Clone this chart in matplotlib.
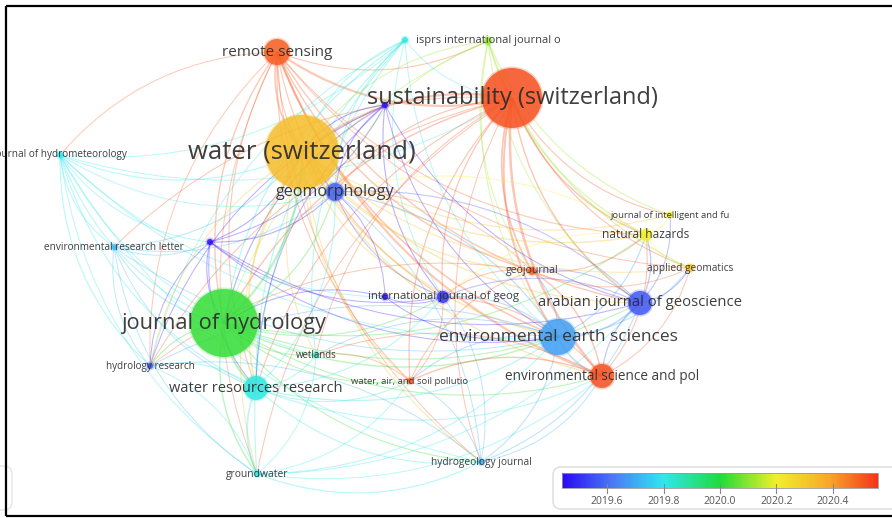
import numpy as np
import matplotlib
matplotlib.use("Agg")
import matplotlib.pyplot as plt
from matplotlib.colors import LinearSegmentedColormap, Normalize
from matplotlib.patches import Circle, FancyBboxPatch, PathPatch
from matplotlib.path import Path

# journals of the overlay map (position in the map, circle radius, avg. pub. year)
keys = ["sust", "water", "jhyd", "ees", "ajg", "esp", "wrr", "rs", "geo", "nh",
        "ijg", "jif", "ag", "gj", "wet", "hr", "gw", "hgj", "was", "erl",
        "jhm", "isprs", "n22", "n23", "n24", "n25"]
names = ["sustainability (switzerland)", "water (switzerland)", "journal of hydrology",
         "environmental earth sciences", "arabian journal of geoscience",
         "environmental science and pol", "water resources research", "remote sensing",
         "geomorphology", "natural hazards", "international journal of geog",
         "journal of intelligent and fu", "applied geomatics", "geojournal", "wetlands",
         "hydrology research", "groundwater", "hydrogeology journal",
         "water, air, and soil pollutio", "environmental research letter",
         "journal of hydrometeorology", "isprs international journal o", "", "", "", ""]
node_x = [512, 302, 224, 558, 640, 602, 256, 277, 335, 646,
          443, 670, 690, 532, 316, 150, 257, 481, 410, 114,
          60, 488, 405, 385, 210, 385]
node_y = [98, 152, 323, 337, 303, 376, 388, 52, 192, 235,
          297, 215, 268, 271, 355, 366, 474, 462, 381, 247,
          155, 41, 40, 105, 242, 297]
node_r = [30, 37, 34, 18, 12, 12, 12, 13, 9, 6,
          6, 3, 4, 4, 3, 3, 3, 3, 3, 3,
          3, 4, 3, 3, 3, 3]
node_year = [2020.52, 2020.33, 2020.02, 2019.68, 2019.56, 2020.52, 2019.82, 2020.5, 2019.58, 2020.2,
             2019.5, 2020.22, 2020.3, 2020.5, 2019.86, 2019.55, 2019.8, 2019.7, 2020.5, 2019.72,
             2019.8, 2020.12, 2019.82, 2019.44, 2019.44, 2019.44]
label_pt = [17, 18.5, 15.7, 12.5, 10.7, 9.8, 10.5, 11, 11.6, 8.6,
            8.2, 6.8, 7.3, 7.6, 6.9, 7.1, 7.4, 7.3, 6.8, 7.2,
            7.2, 8, 6, 6, 6, 6]

# co-citation links (source, target, strength)
links = [
    ("rs", "sust", 3), ("rs", "water", 2), ("rs", "esp", 3), ("rs", "ees", 2), ("rs", "gj", 1.5),
    ("rs", "jhyd", 1.5), ("rs", "wrr", 1), ("rs", "ajg", 1.5), ("rs", "nh", 1), ("rs", "ijg", 1),
    ("rs", "was", 1), ("rs", "geo", 1), ("rs", "hr", 0.8), ("rs", "jhm", 0.8), ("rs", "isprs", 1),
    ("rs", "ag", 0.8), ("rs", "hgj", 0.8), ("rs", "gw", 0.8),
    ("sust", "water", 3), ("sust", "esp", 3.5), ("sust", "ees", 2.5), ("sust", "gj", 2), ("sust", "nh", 1.5),
    ("sust", "ajg", 1.5), ("sust", "jhyd", 1.5), ("sust", "wrr", 1), ("sust", "ijg", 1.2), ("sust", "ag", 1),
    ("sust", "was", 1.2), ("sust", "hgj", 0.8), ("sust", "gw", 0.8), ("sust", "erl", 0.8), ("sust", "jif", 1),
    ("sust", "geo", 1), ("sust", "hr", 0.8), ("sust", "wet", 0.8),
    ("isprs", "nh", 1.5), ("isprs", "ag", 1.5), ("isprs", "jif", 1.2), ("isprs", "ees", 1), ("isprs", "water", 1.2),
    ("isprs", "ajg", 1), ("isprs", "gj", 1), ("isprs", "geo", 0.8), ("isprs", "jhyd", 0.8),
    ("n22", "jhyd", 1.2), ("n22", "wrr", 1.2), ("n22", "geo", 1), ("n22", "water", 1), ("n22", "wet", 1),
    ("n22", "gw", 1), ("n22", "ijg", 0.8), ("n22", "hr", 0.8), ("n22", "sust", 0.8), ("n22", "ees", 0.8),
    ("n23", "geo", 1), ("n23", "jhyd", 1), ("n23", "wrr", 0.8), ("n23", "ees", 0.8), ("n23", "ijg", 1),
    ("n23", "hr", 0.8), ("n23", "ajg", 0.8), ("n23", "water", 1),
    ("jhm", "water", 1), ("jhm", "jhyd", 1), ("jhm", "wrr", 1), ("jhm", "erl", 1), ("jhm", "hr", 1),
    ("jhm", "geo", 0.8), ("jhm", "n24", 0.8), ("jhm", "gw", 0.8), ("jhm", "ijg", 0.8), ("jhm", "sust", 0.8),
    ("jhm", "ees", 0.8), ("jhm", "hgj", 0.8), ("jhm", "n22", 0.8), ("jhm", "wet", 0.8),
    ("erl", "jhyd", 1), ("erl", "water", 1), ("erl", "wrr", 0.8), ("erl", "n24", 0.8), ("erl", "hr", 0.8),
    ("erl", "ees", 0.8), ("erl", "geo", 0.8), ("erl", "gw", 0.8),
    ("n24", "jhyd", 1), ("n24", "water", 1), ("n24", "geo", 1), ("n24", "hr", 0.8), ("n24", "ees", 0.8),
    ("n24", "ijg", 0.8), ("n24", "wrr", 0.8), ("n24", "n23", 0.8), ("n24", "ajg", 0.8),
    ("jhyd", "water", 3), ("jhyd", "wrr", 3), ("jhyd", "gw", 1.5), ("jhyd", "wet", 1.2), ("jhyd", "hr", 1.2),
    ("jhyd", "hgj", 1), ("jhyd", "geo", 1.2), ("jhyd", "ees", 1.5), ("jhyd", "was", 1), ("jhyd", "ijg", 1),
    ("jhyd", "ajg", 1), ("jhyd", "esp", 1), ("jhyd", "nh", 1),
    ("water", "ees", 2), ("water", "ajg", 1.5), ("water", "nh", 1.5), ("water", "esp", 1.5), ("water", "gj", 1.2),
    ("water", "wrr", 2), ("water", "hgj", 1), ("water", "gw", 1), ("water", "geo", 1.5), ("water", "ijg", 1.2),
    ("water", "was", 1.2), ("water", "ag", 1), ("water", "jif", 1), ("water", "wet", 1), ("water", "hr", 1),
    ("wrr", "gw", 2), ("wrr", "hr", 1.2), ("wrr", "wet", 1), ("wrr", "hgj", 1), ("wrr", "ees", 1.2),
    ("wrr", "was", 1), ("wrr", "esp", 1), ("wrr", "geo", 1), ("wrr", "ijg", 1),
    ("gw", "hgj", 1.2), ("gw", "ees", 1), ("gw", "esp", 0.8), ("gw", "wet", 0.8), ("gw", "was", 0.8),
    ("gw", "hr", 0.8), ("gw", "ajg", 0.8),
    ("hgj", "ees", 1), ("hgj", "ajg", 1), ("hgj", "esp", 0.8), ("hgj", "was", 0.8), ("hgj", "ijg", 0.8),
    ("hgj", "geo", 0.8), ("hgj", "hr", 0.8),
    ("ees", "ajg", 2), ("ees", "esp", 2), ("ees", "gj", 1.2), ("ees", "nh", 1.2), ("ees", "ijg", 1.2),
    ("ees", "was", 1), ("ees", "ag", 1), ("ees", "geo", 1.2), ("ees", "hr", 0.8), ("ees", "wet", 0.8),
    ("ajg", "nh", 1.2), ("ajg", "esp", 1.2), ("ajg", "gj", 1), ("ajg", "ag", 1), ("ajg", "jif", 1),
    ("ajg", "ijg", 1), ("ajg", "geo", 1),
    ("esp", "gj", 1.5), ("esp", "was", 1.5), ("esp", "nh", 1), ("esp", "ijg", 1), ("esp", "ag", 0.8),
    ("esp", "wet", 0.8),
    ("gj", "was", 1), ("gj", "nh", 1), ("gj", "ijg", 1), ("gj", "ag", 0.8), ("gj", "hr", 0.8), ("gj", "geo", 0.8),
    ("nh", "ag", 1.2), ("nh", "jif", 1.2), ("nh", "geo", 0.8), ("nh", "ijg", 0.8),
    ("was", "wet", 0.8), ("was", "ijg", 0.8), ("geo", "ijg", 1),
    ("n25", "ijg", 0.8), ("n25", "geo", 0.8), ("n25", "ees", 0.8), ("n25", "jhyd", 0.8),
]

cbar_ticks = [2019.6, 2019.8, 2020.0, 2020.2, 2020.4]
year_min, year_max = 2019.44, 2020.56

cmap = LinearSegmentedColormap.from_list("vos", [
    (0.0, "#2a0cf5"), (0.16, "#4a7cf5"), (0.32, "#2ee8f0"), (0.5, "#20dc3a"),
    (0.68, "#f2f02a"), (0.85, "#f8a62a"), (1.0, "#f5361c")])
norm = Normalize(year_min, year_max)

fig = plt.figure(figsize=(8.92, 5.18), dpi=100)
ax = fig.add_axes([0, 0, 1, 1])
ax.set_xlim(0, 892)
ax.set_ylim(518, 0)
ax.axis("off")

idx = {k: i for i, k in enumerate(keys)}

# curved links
for a, b, w in links:
    i, j = idx[a], idx[b]
    p0 = np.array([node_x[i], node_y[i]], float)
    p1 = np.array([node_x[j], node_y[j]], float)
    d = p1 - p0
    ctrl = (p0 + p1) / 2 + np.array([-d[1], d[0]]) * 0.22
    path = Path([p0, ctrl, p1], [Path.MOVETO, Path.CURVE3, Path.CURVE3])
    ax.add_patch(PathPatch(path, fill=False, edgecolor=cmap(norm(node_year[i])),
                           lw=0.4 + 0.4 * w, alpha=0.32, zorder=1))

# nodes
for i in range(len(keys)):
    c = cmap(norm(node_year[i]))
    ax.add_patch(Circle((node_x[i], node_y[i]), node_r[i] + 1.5, color=c, alpha=0.25, lw=0, zorder=2))
    ax.add_patch(Circle((node_x[i], node_y[i]), node_r[i], color=c, alpha=0.82, lw=0, zorder=2))

# labels
for i in range(len(keys)):
    if names[i]:
        ax.text(node_x[i], node_y[i], names[i], fontsize=label_pt[i], family="Open Sans",
                color="#2a2a2a", alpha=0.9, ha="center", va="center", zorder=3,
                clip_on=True)

# colour legend
ax.add_patch(FancyBboxPatch((553, 467), 360, 42, boxstyle="round,pad=0,rounding_size=8",
                            fc="white", ec="#dcdcdc", lw=1, zorder=4))
ax.add_patch(FancyBboxPatch((-60, 466), 72, 44, boxstyle="round,pad=0,rounding_size=8",
                            fc="white", ec="#e6e6e6", lw=1, zorder=4))
grad = np.linspace(year_min, year_max, 300).reshape(1, -1)
ax.imshow(grad, cmap=cmap, norm=norm, extent=[562, 878, 488, 473], aspect="auto", zorder=5)
ax.add_patch(plt.Rectangle((562, 473), 316, 15, fill=False, ec="#999999", lw=0.6, zorder=6))
for t in cbar_ticks:
    tx = 562 + (t - year_min) / (year_max - year_min) * 316
    ax.plot([tx, tx], [484, 493], color="#888888", lw=0.8, zorder=6)
    ax.text(tx, 502, f"{t:.1f}", fontsize=7.5, family="Open Sans", color="#555555",
            ha="center", va="center", zorder=6)

# picture frame
ax.plot([6, 6], [6, 516], color="black", lw=1.6, zorder=7, solid_capstyle="butt")
ax.plot([6, 892], [6, 6], color="black", lw=1.6, zorder=7, solid_capstyle="butt")
ax.plot([6, 892], [516, 516], color="black", lw=1.6, zorder=7, solid_capstyle="butt")

fig.savefig("out.png", dpi=100, facecolor="white")
